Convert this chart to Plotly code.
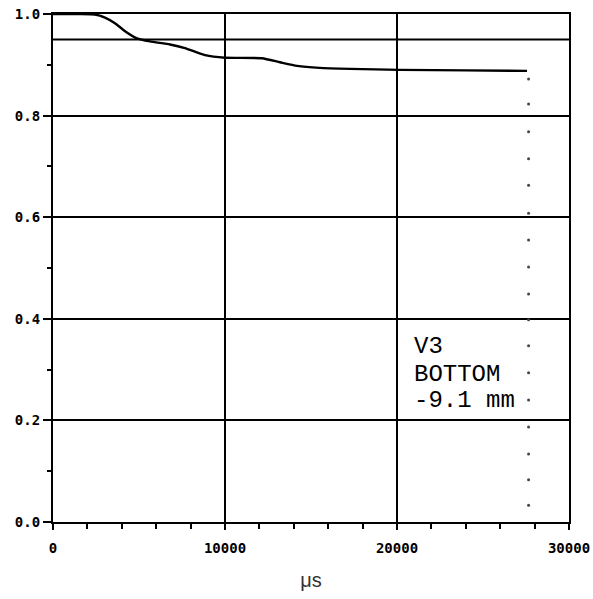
import plotly.graph_objects as go

# Measured response curve (time in microseconds, normalised value)
time_us = [0, 1570, 2440, 3020, 3600, 4190, 4880, 5640, 6800, 7670, 8840,
           10000, 12150, 13200, 14190, 15500, 17270, 20170, 24000, 27560]
value = [1.0, 1.0, 0.999, 0.993, 0.982, 0.966, 0.952, 0.946, 0.940, 0.933, 0.919,
         0.914, 0.913, 0.905, 0.898, 0.894, 0.892, 0.890, 0.889, 0.888]

# Reference level
ref_x = [0, 30000]
ref_y = [0.95, 0.95]

# Dotted marker column at the end of the record
dot_x_pos = 27650
dot_y = [0.872, 0.823, 0.768, 0.715, 0.663, 0.608, 0.555, 0.502, 0.449, 0.398,
         0.347, 0.294, 0.240, 0.187, 0.134, 0.083, 0.033]
dot_x = [dot_x_pos] * len(dot_y)

label_lines = ["V3", "BOTTOM", "-9.1 mm"]
label_y = [0.345, 0.290, 0.240]
label_x = 20850

x_ticks = [0, 10000, 20000, 30000]
y_ticks = [0.0, 0.2, 0.4, 0.6, 0.8, 1.0]

fig = go.Figure()
fig.add_trace(go.Scatter(x=ref_x, y=ref_y, mode="lines",
                         line=dict(color="black", width=2), hoverinfo="skip"))
fig.add_trace(go.Scatter(x=time_us, y=value, mode="lines",
                         line=dict(color="black", width=2.4, shape="spline", smoothing=0.5)))
fig.add_trace(go.Scatter(x=dot_x, y=dot_y, mode="markers",
                         marker=dict(color="#444444", size=3)))

for txt, yy in zip(label_lines, label_y):
    fig.add_annotation(x=label_x, y=yy, text=txt, showarrow=False,
                       xanchor="left", yanchor="middle",
                       font=dict(family="Courier New, Liberation Mono, monospace",
                                 size=24, color="black"))

tick_font = dict(family="DejaVu Sans Mono, monospace", size=14, color="black")

fig.update_layout(
    width=593, height=599,
    margin=dict(l=53, r=24, t=14, b=77, autoexpand=False),
    paper_bgcolor="white", plot_bgcolor="white",
    showlegend=False,
    xaxis=dict(range=[0, 30000], tickvals=x_ticks,
               ticktext=[f"<b>{v}</b>" for v in x_ticks],
               showgrid=True, gridcolor="black", gridwidth=1.8,
               showline=True, linecolor="black", linewidth=2.2, mirror=True,
               ticks="outside", ticklen=6, tickwidth=1.5, tickcolor="black",
               minor=dict(dtick=2000, tick0=0, ticks="outside", ticklen=5,
                          tickwidth=1.5, tickcolor="black", showgrid=False),
               zeroline=False, tickfont=tick_font, ticklabelstandoff=6,
               title=dict(text="μs", font=dict(family="Liberation Sans, Arial, sans-serif",
                                               size=20, color="#333333"), standoff=18)),
    yaxis=dict(range=[0, 1.0], tickvals=y_ticks,
               ticktext=[f"<b>{v:.1f}</b>" for v in y_ticks],
               showgrid=True, gridcolor="black", gridwidth=1.8,
               showline=True, linecolor="black", linewidth=2.2, mirror=True,
               ticks="outside", ticklen=8, tickwidth=1.5, tickcolor="black",
               minor=dict(dtick=0.1, tick0=0, ticks="outside", ticklen=4,
                          tickwidth=1.5, tickcolor="black", showgrid=False),
               zeroline=False, tickfont=tick_font),
)

fig.write_html("out.html")
